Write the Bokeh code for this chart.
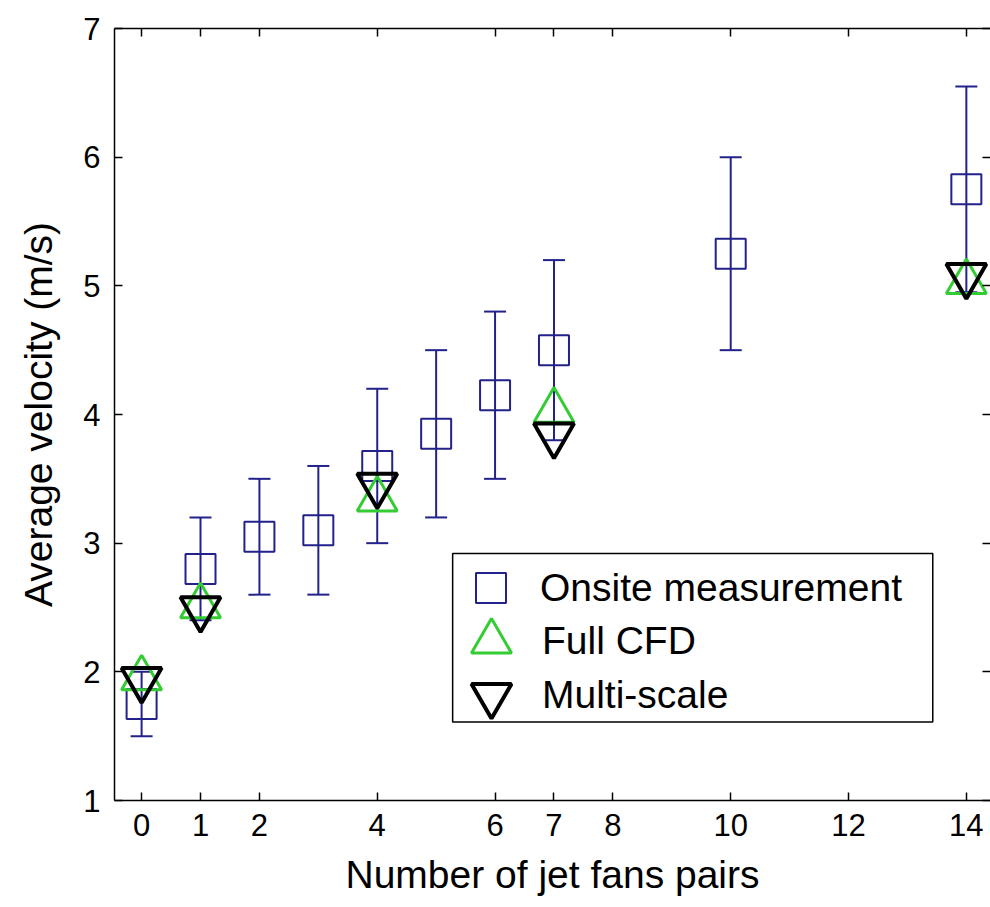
from bokeh.plotting import figure
from bokeh.models import (ColumnDataSource, Whisker, TeeHead, FixedTicker, LinearAxis,
                          Legend, LegendItem, Range1d, BoxAnnotation, CustomLabelingPolicy)
from bokeh.embed import file_html
from bokeh.resources import INLINE

# ---- data ----
x_ticks = [0, 1, 2, 4, 6, 7, 8, 10, 12, 14]
y_ticks = [1, 2, 3, 4, 5, 6, 7]

meas_x = [0, 1, 2, 3, 4, 5, 6, 7, 10, 14]
meas_y = [1.75, 2.80, 3.05, 3.10, 3.60, 3.85, 4.15, 4.50, 5.25, 5.75]
meas_err = [0.25, 0.40, 0.45, 0.50, 0.60, 0.65, 0.65, 0.70, 0.75, 0.80]

cfd_x = [0, 1, 4, 7, 14]
cfd_y = [1.95, 2.51, 3.34, 4.03, 5.03]

ms_x = [0, 1, 4, 7, 14]
ms_y = [1.94, 2.49, 3.45, 3.84, 5.08]

labels = ["Onsite measurement", "Full CFD", "Multi-scale"]
x_title = "Number of jet fans pairs"
y_title = "Average velocity (m/s)"

BLUE = "#22228a"
GREEN = "#33cc33"
BLACK = "#000000"
FONT = "Liberation Sans"

meas_src = ColumnDataSource(dict(
    x=meas_x, y=meas_y,
    upper=[v + e for v, e in zip(meas_y, meas_err)],
    lower=[v - e for v, e in zip(meas_y, meas_err)],
))

p = figure(width=990, height=905, output_backend="svg", toolbar_location=None,
           x_range=Range1d(-0.46, 14.41), y_range=Range1d(1, 7),
           min_border_left=114, min_border_right=0, min_border_top=28,
           min_border_bottom=105, background_fill_color="white",
           border_fill_color="white")
p.grid.visible = False
p.outline_line_color = None

def style_axis(ax, show_labels=True, show_line=True):
    ax.major_tick_in = 8
    ax.major_tick_out = 0
    ax.minor_tick_in = 0
    ax.minor_tick_out = 0
    ax.major_tick_line_color = BLACK
    ax.major_tick_line_width = 1.5
    ax.axis_line_color = BLACK if show_line else None
    ax.axis_line_width = 1.5
    if show_labels:
        ax.major_label_text_font = FONT
        ax.major_label_text_font_size = "31px"
        ax.major_label_text_color = BLACK
        ax.axis_label_text_font = FONT
        ax.axis_label_text_font_size = "39px"
        ax.axis_label_text_font_style = "normal"
        ax.axis_label_text_color = BLACK
    else:
        # tick marks only: no label is drawn and no room is reserved for labels
        ax.major_label_policy = CustomLabelingPolicy(code="return []")
        ax.major_label_text_font_size = "0px"
        ax.major_label_standoff = 0
        ax.axis_label_standoff = 0

xax = p.xaxis[0]
xax.ticker = FixedTicker(ticks=x_ticks)
xax.axis_label = x_title
style_axis(xax)
xax.major_label_standoff = 13
xax.axis_label_standoff = 14

yax = p.yaxis[0]
yax.ticker = FixedTicker(ticks=y_ticks)
yax.axis_label = y_title
style_axis(yax)
yax.major_label_standoff = 14
yax.axis_label_standoff = 20

top_ax = LinearAxis(ticker=FixedTicker(ticks=x_ticks))
style_axis(top_ax, show_labels=False)
p.add_layout(top_ax, "above")

right_ax = LinearAxis(ticker=FixedTicker(ticks=y_ticks))
style_axis(right_ax, show_labels=False, show_line=False)
p.add_layout(right_ax, "right")

# ---- marks ----
whisk = Whisker(source=meas_src, base="x", upper="upper", lower="lower",
                dimension="height", line_color=BLUE, line_width=2,
                upper_head=TeeHead(size=22, line_color=BLUE, line_width=2),
                lower_head=TeeHead(size=22, line_color=BLUE, line_width=2))
p.add_layout(whisk)

r_meas = p.scatter("x", "y", source=meas_src, marker="square", size=30,
                   fill_color=None, line_color=BLUE, line_width=2)
r_cfd = p.scatter(cfd_x, cfd_y, marker="triangle", size=40,
                  fill_color=None, line_color=GREEN, line_width=3)
r_ms = p.scatter(ms_x, ms_y, marker="inverted_triangle", size=40,
                 fill_color=None, line_color=BLACK, line_width=4)

# ---- legend: a framed box with one entry per row ----
legend_box = BoxAnnotation(left=5.28, right=13.43, top=2.92, bottom=1.61,
                           fill_color="white", fill_alpha=1.0,
                           line_color=BLACK, line_alpha=1.0, line_width=1.5)
p.add_layout(legend_box)

def make_legend(label, renderer, glyph, loc, standoff):
    lg = Legend(items=[LegendItem(label=label, renderers=[renderer])],
                location=loc, orientation="vertical",
                glyph_width=glyph, glyph_height=glyph, label_height=glyph,
                spacing=0, padding=0, margin=0, label_standoff=standoff,
                label_text_font=FONT, label_text_font_size="39px",
                label_text_color=BLACK,
                border_line_color=None, background_fill_alpha=0.0)
    p.add_layout(lg)

make_legend(labels[0], r_meas, 75, (339, 175), 12)
make_legend(labels[1], r_cfd, 100, (327, 109), 1)
make_legend(labels[2], r_ms, 100, (327, 55), 1)

open("out.html", "w").write(file_html(p, INLINE))
